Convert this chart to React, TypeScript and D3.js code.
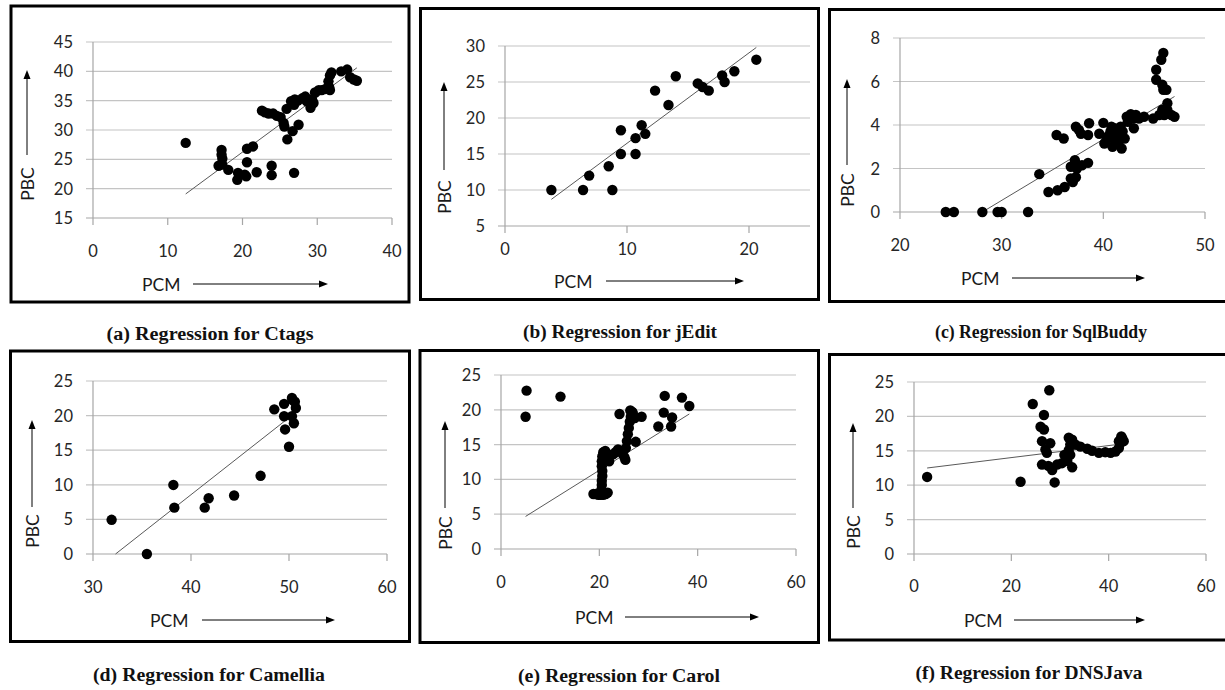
import React from 'react'
import * as d3 from 'd3'

type Pt = [number, number]

// values (PCM, PBC)
const ctagsPoints: Pt[] = [
  [12.4, 27.8], [17.2, 26.6], [17.2, 25.8], [17.3, 25.1], [16.8, 23.9], [17.3, 24.1],
  [18.1, 23.2], [19.3, 21.5], [19.4, 22.7], [20.3, 22.4], [20.5, 22.1], [20.6, 26.8],
  [20.6, 24.5], [21.4, 27.2], [21.9, 22.8], [22.6, 33.3], [23.0, 33.0], [23.5, 32.8],
  [24.1, 32.8], [24.6, 32.4], [23.9, 23.9], [23.9, 22.3], [25.1, 32.2], [25.5, 31.2],
  [25.6, 30.6], [26.0, 28.4], [25.9, 33.6], [26.5, 34.9], [26.7, 29.8], [27.0, 35.2],
  [26.9, 22.7], [27.5, 30.9], [26.9, 34.3], [28.4, 35.7], [28.6, 34.9], [29.1, 33.8],
  [29.3, 35.2], [29.7, 36.4], [29.5, 34.6], [30.2, 36.8], [30.6, 36.8], [31.1, 37.0],
  [31.7, 36.8], [31.5, 38.3], [31.7, 39.3], [31.9, 39.8], [33.2, 40.0], [34.0, 40.3],
  [34.4, 39.0], [34.9, 38.6], [35.3, 38.4], [31.6, 37.3], [28.0, 35.4], [27.4, 35.0]
]
const ctagsFit: Pt[] = [[12.4, 19.1], [35.3, 40.6]]

const jeditPoints: Pt[] = [
  [3.8, 10.0], [6.4, 10.0], [6.9, 12.0], [8.5, 13.3], [8.8, 10.0], [9.5, 18.3],
  [9.5, 15.0], [10.7, 17.2], [10.7, 15.0], [11.2, 19.0], [11.5, 17.8], [12.3, 23.8],
  [13.4, 21.8], [14.0, 25.8], [15.8, 24.8], [16.2, 24.3], [16.7, 23.8], [17.8, 25.9],
  [18.0, 25.0], [18.8, 26.5], [20.6, 28.1]
]
const jeditFit: Pt[] = [[3.8, 8.7], [20.6, 29.8]]

const sqlbuddyPoints: Pt[] = [
  [24.5, 0], [25.3, 0], [28.1, 0], [29.6, 0], [30.0, 0], [32.6, 0], [33.7, 1.74],
  [34.6, 0.92], [35.5, 1.0], [36.2, 1.15], [35.4, 3.54], [36.1, 3.38], [36.8, 1.54],
  [37.0, 1.38], [37.3, 1.6], [36.8, 2.08], [37.2, 2.38], [37.4, 2.0], [37.9, 2.15],
  [38.5, 2.26], [37.3, 3.92], [37.6, 3.77], [37.8, 3.6], [38.5, 3.54], [38.6, 4.08],
  [39.6, 3.6], [40.0, 4.1], [40.1, 3.15], [40.4, 3.46], [40.7, 3.7], [40.8, 3.92],
  [40.9, 3.0], [41.1, 3.38], [41.2, 3.6], [41.4, 3.77], [41.6, 3.46], [41.7, 3.92],
  [41.9, 3.7], [41.8, 2.92], [42.1, 3.38], [42.4, 4.15], [42.3, 4.38], [42.9, 4.3],
  [43.0, 3.85], [43.2, 4.46], [43.5, 4.3], [44.0, 4.38], [44.9, 4.3], [45.2, 6.54],
  [45.2, 6.08], [45.7, 7.0], [45.9, 7.31], [45.8, 5.85], [45.9, 5.62], [46.2, 5.62],
  [46.3, 5.0], [46.3, 4.69], [46.0, 4.46], [45.5, 4.46], [46.7, 4.46], [47.0, 4.38],
  [45.8, 4.7], [42.7, 4.5], [41.1, 3.85], [40.3, 3.3], [41.5, 3.2]
]
const sqlbuddyFit: Pt[] = [[28.1, 0], [47.0, 5.31]]

const camelliaPoints: Pt[] = [
  [31.9, 4.94], [35.5, 0], [38.2, 9.98], [38.3, 6.7], [41.4, 6.7], [41.8, 8.06],
  [44.4, 8.45], [47.1, 11.3], [48.5, 20.9], [49.5, 21.7], [49.5, 19.9], [49.6, 18.0],
  [50.0, 15.5], [50.3, 22.55], [50.4, 22.2], [50.6, 22.0], [50.7, 21.1], [50.3, 19.9],
  [50.5, 18.9]
]
const camelliaFit: Pt[] = [[32.3, 0], [50.0, 19.7]]

const carolPoints: Pt[] = [
  [5.2, 22.75], [5.0, 19.0], [12.1, 21.9], [24.1, 19.4], [26.3, 19.9], [26.7, 19.7],
  [28.6, 19.0], [27.4, 15.4], [25.3, 12.8], [33.3, 22.0], [33.1, 19.6], [32.0, 17.6],
  [34.8, 18.9], [34.6, 17.6], [36.8, 21.75], [38.3, 20.55],
  [18.8, 7.9], [19.3, 7.9], [19.8, 7.8], [20.3, 7.8], [20.8, 7.8], [21.3, 7.9],
  [21.7, 8.1], [20.4, 8.5], [20.5, 9.2], [20.5, 9.8], [20.6, 10.5], [20.6, 11.2],
  [20.5, 11.9], [20.5, 12.6], [20.6, 13.3], [20.8, 13.9], [21.2, 14.1], [21.6, 13.6],
  [22.0, 12.6], [22.3, 13.5], [22.8, 13.6], [23.3, 13.9], [23.8, 14.3], [24.3, 14.1],
  [24.7, 13.7], [25.1, 13.2], [25.4, 14.5], [25.6, 15.5], [25.8, 16.5], [26.0, 17.4],
  [26.2, 18.3], [26.4, 19.0], [26.8, 19.5], [21.0, 12.8], [21.4, 13.2], [27.2, 18.8]
]
const carolFit: Pt[] = [[5.0, 4.68], [38.3, 19.4]]

const dnsjavaPoints: Pt[] = [
  [2.7, 11.2], [21.9, 10.5], [24.4, 21.8], [27.8, 23.8], [26.7, 20.2], [26.0, 18.5],
  [26.7, 18.1], [26.3, 16.4], [28.0, 16.1], [26.3, 13.0], [28.9, 10.4], [27.3, 14.7],
  [28.4, 12.2], [29.4, 13.0], [30.4, 13.2], [31.5, 13.5], [32.5, 12.6], [31.8, 16.9],
  [32.5, 16.6], [32.1, 15.9], [31.8, 15.1], [33.2, 15.9], [34.2, 15.6], [35.6, 15.3],
  [36.6, 15.0], [38.0, 14.7], [39.3, 14.8], [40.4, 14.7], [41.4, 14.9], [42.1, 15.4],
  [42.4, 16.1], [42.8, 16.8], [43.1, 16.4], [42.1, 16.4], [42.6, 17.1], [30.9, 14.4],
  [32.1, 14.4], [27.0, 15.2], [27.6, 12.8]
]
const dnsjavaFit: Pt[] = [[2.7, 12.5], [42.4, 15.97]]

const captions = [
  '(a) Regression for Ctags',
  '(b) Regression for jEdit',
  '(c) Regression for SqlBuddy',
  '(d) Regression for Camellia',
  '(e) Regression for Carol',
  '(f) Regression for DNSJava'
]

interface Spec {
  points: Pt[]
  fit: Pt[]
  xDomain: number[]
  yDomain: number[]
  xTicks: number[]
  yTicks: number[]
  xRange: number[]
  yRange: number[]
  frame: number[]
  gap: number
  pcm: number[]
  pbc: number[]
  cap: number[]
  caption: string
}

const specs: Spec[] = [
  {
    points: ctagsPoints, fit: ctagsFit, xDomain: [0, 40], yDomain: [15, 45],
    xTicks: [0, 10, 20, 30, 40], yTicks: [15, 20, 25, 30, 35, 40, 45],
    xRange: [93, 392], yRange: [218, 42], frame: [11, 6, 409, 302], gap: 33,
    pcm: [142, 284, 193, 328], pbc: [27, 184, 155, 70], cap: [210, 334, 207], caption: captions[0]
  },
  {
    points: jeditPoints, fit: jeditFit, xDomain: [0, 25], yDomain: [5, 30],
    xTicks: [0, 10, 20], yTicks: [5, 10, 15, 20, 25, 30],
    xRange: [505, 810], yRange: [226, 46], frame: [420.5, 8.5, 818.5, 299.5], gap: 23,
    pcm: [554, 281, 606, 744], pbc: [444, 197, 170, 82], cap: [620, 332, 194], caption: captions[1]
  },
  {
    points: sqlbuddyPoints, fit: sqlbuddyFit, xDomain: [20, 50], yDomain: [0, 8],
    xTicks: [20, 30, 40, 50], yTicks: [0, 2, 4, 6, 8],
    xRange: [900, 1205], yRange: [212, 38], frame: [829.5, 9.5, 1230, 301.5], gap: 33,
    pcm: [961, 278, 1012, 1145], pbc: [847, 190, 165, 79], cap: [1041, 332, 212], caption: captions[2]
  },
  {
    points: camelliaPoints, fit: camelliaFit, xDomain: [30, 60], yDomain: [0, 25],
    xTicks: [30, 40, 50, 60], yTicks: [0, 5, 10, 15, 20, 25],
    xRange: [93, 387], yRange: [554, 381], frame: [10.5, 351, 409.5, 641.5], gap: 33,
    pcm: [150, 620, 202, 335], pbc: [32, 531, 507, 420], cap: [209, 675, 232], caption: captions[3]
  },
  {
    points: carolPoints, fit: carolFit, xDomain: [0, 60], yDomain: [0, 25],
    xTicks: [0, 20, 40, 60], yTicks: [0, 5, 10, 15, 20, 25],
    xRange: [501, 796], yRange: [549, 375], frame: [420, 350.5, 818.5, 642.5], gap: 33,
    pcm: [575, 617, 625, 759], pbc: [445, 533, 508, 421], cap: [619, 676, 202], caption: captions[4]
  },
  {
    points: dnsjavaPoints, fit: dnsjavaFit, xDomain: [0, 60], yDomain: [0, 25],
    xTicks: [0, 20, 40, 60], yTicks: [0, 5, 10, 15, 20, 25],
    xRange: [914, 1206], yRange: [554, 382], frame: [829.5, 354.5, 1230, 640], gap: 32,
    pcm: [964, 620, 1014, 1145], pbc: [853, 532, 508, 423], cap: [1029, 673, 227], caption: captions[5]
  }
]

const tickFont = 'Lato, "Open Sans", sans-serif'

function Panel({ s }: { s: Spec }) {
  const x = d3.scaleLinear().domain(s.xDomain).range(s.xRange)
  const y = d3.scaleLinear().domain(s.yDomain).range(s.yRange)
  const axisY = s.yRange[0]
  const [fx0, fy0, fx1, fy1] = s.frame
  const [px, py, pa0, pa1] = s.pcm
  const [bx, by, ba0, ba1] = s.pbc
  return (
    <g>
      <rect x={fx0} y={fy0} width={fx1 - fx0} height={fy1 - fy0} fill="#fff" stroke="#000" strokeWidth={3} />
      {s.yTicks.map(t => (
        <line key={'g' + t} x1={s.xRange[0] - 7} x2={s.xRange[1]} y1={y(t)} y2={y(t)}
          stroke={t === s.yDomain[0] ? '#a6a6a6' : '#c4c4c4'} strokeWidth={1.2} />
      ))}
      <line x1={s.xRange[0]} x2={s.xRange[0]} y1={s.yRange[0]} y2={s.yRange[1]} stroke="#a6a6a6" strokeWidth={1.2} />
      {s.xTicks.map(t => (
        <line key={'t' + t} x1={x(t)} x2={x(t)} y1={axisY} y2={axisY + 7} stroke="#a6a6a6" strokeWidth={1.2} />
      ))}
      {s.yTicks.map(t => (
        <text key={'yl' + t} x={s.xRange[0] - 20} y={y(t)} textAnchor="end" dominantBaseline="central"
          fontFamily={tickFont} fontSize={16.5} fill="#262626">{t}</text>
      ))}
      {s.xTicks.map(t => (
        <text key={'xl' + t} x={x(t)} y={axisY + s.gap} textAnchor="middle" dominantBaseline="central"
          fontFamily={tickFont} fontSize={16.5} fill="#262626">{t}</text>
      ))}
      <line x1={x(s.fit[0][0])} y1={y(s.fit[0][1])} x2={x(s.fit[1][0])} y2={y(s.fit[1][1])}
        stroke="#595959" strokeWidth={1} />
      {s.points.map((p, i) => (
        <circle key={i} cx={x(p[0])} cy={y(p[1])} r={5.2} fill="#000" />
      ))}
      <text x={px} y={py} dominantBaseline="central" fontFamily={tickFont} fontSize={17.5} fill="#1a1a1a">PCM</text>
      <line x1={pa0} x2={pa1 - 7} y1={py} y2={py} stroke="#000" strokeWidth={1} />
      <path d={`M${pa1},${py} L${pa1 - 9},${py - 3.5} L${pa1 - 9},${py + 3.5} Z`} fill="#000" />
      <text transform={`translate(${bx},${by}) rotate(-90)`} textAnchor="middle" dominantBaseline="central"
        fontFamily={tickFont} fontSize={17.5} fill="#1a1a1a">PBC</text>
      <line x1={bx} x2={bx} y1={ba0} y2={ba1 + 7} stroke="#000" strokeWidth={1} />
      <path d={`M${bx},${ba1} L${bx - 3.5},${ba1 + 9} L${bx + 3.5},${ba1 + 9} Z`} fill="#000" />
      <text x={s.cap[0]} y={s.cap[1]} textAnchor="middle" dominantBaseline="central"
        textLength={s.cap[2]} lengthAdjust="spacingAndGlyphs"
        fontFamily='"Liberation Serif", "DejaVu Serif", serif' fontWeight="bold" fontSize={18} fill="#111">
        {s.caption}
      </text>
    </g>
  )
}

export default function App() {
  return (
    <svg width={1225} height={690} style={{ position: 'absolute', left: 0, top: 0, background: '#fff' }}>
      <rect width={1225} height={690} fill="#fff" />
      {specs.map((s, i) => <Panel key={i} s={s} />)}
    </svg>
  )
}
